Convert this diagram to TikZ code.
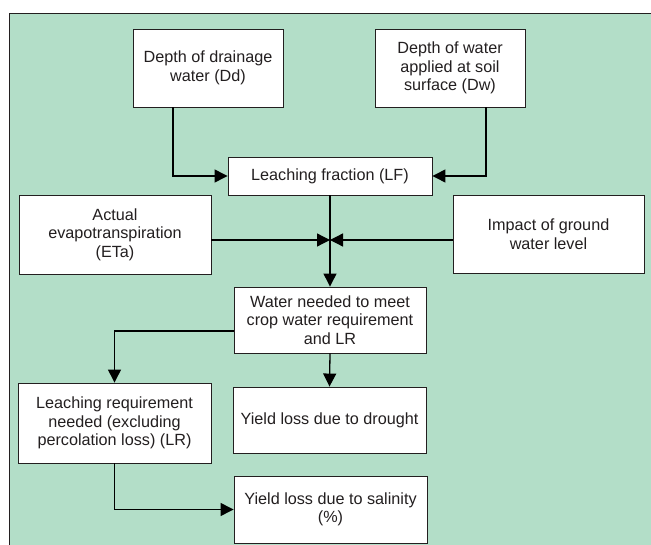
\documentclass[tikz,border=0pt]{standalone}
\usepackage{fontspec}
\setmainfont{Liberation Sans}
\usetikzlibrary{arrows.meta}
\definecolor{panelgreen}{RGB}{179,222,200}
\definecolor{inkgray}{RGB}{35,31,32}

\begin{document}
\begin{tikzpicture}[x=1pt,y=-1pt,
  box/.style={draw=inkgray,line width=0.9pt,fill=white,align=center,inner sep=0pt,
    font=\fontsize{16.2}{18.5}\selectfont,text=inkgray},
  conn/.style={-{Triangle[length=13pt,width=13pt]},line width=1.3pt,black}]
  \useasboundingbox (0,0) rectangle (651,545);
  \filldraw[fill=panelgreen,draw=inkgray,line width=0.9pt] (670,560) -- (9,560) -- (9,13) -- (670,13);
  %
  \node[box,minimum width=150pt,minimum height=78pt] (dd) at (208,68) {Depth of drainage\\water (Dd)};
  \node[box,minimum width=150pt,minimum height=78pt] (dw) at (450,68) {Depth of water\\applied at soil\\surface (Dw)};
  \node[box,minimum width=204pt,minimum height=38pt] (lf) at (330,176) {Leaching fraction (LF)};
  \draw[conn] ([xshift=-35pt]dd.south) |- (lf.west);
  \draw[conn] ([xshift=36pt]dw.south) |- (lf.east);
  %
  \node[box,minimum width=192pt,minimum height=79pt] (eta) at (115,234.5) {Actual\\evapotranspiration\\(ETa)};
  \node[box,minimum width=191pt,minimum height=78pt] (gw) at (548.5,234) {Impact of ground\\water level};
  \node[box,minimum width=192pt,minimum height=66pt] (wn) at (330,320) {Water needed to meet\\crop water requirement\\and LR};
  \coordinate (j) at (330,240);
  \draw[conn] (eta.east |- j) -- (j);
  \draw[conn] (gw.west |- j) -- (j);
  \draw[conn] (lf.south) -- (wn.north);
  %
  \node[box,minimum width=193pt,minimum height=80pt] (lr) at (114.5,423) {Leaching requirement\\needed (excluding\\percolation loss) (LR)};
  \node[box,minimum width=193pt,minimum height=66pt] (dr) at (329.5,420) {Yield loss due to drought};
  \node[box,minimum width=193pt,minimum height=67pt] (sal) at (330.5,509.5) {Yield loss due to salinity\\(\%)};
  \draw[conn] ([yshift=-11pt]wn.west) -| (lr.north);
  \draw[conn] (wn.south) -- (dr.north);
  \draw[conn] (lr.south) |- (sal.west);
\end{tikzpicture}
\end{document}
